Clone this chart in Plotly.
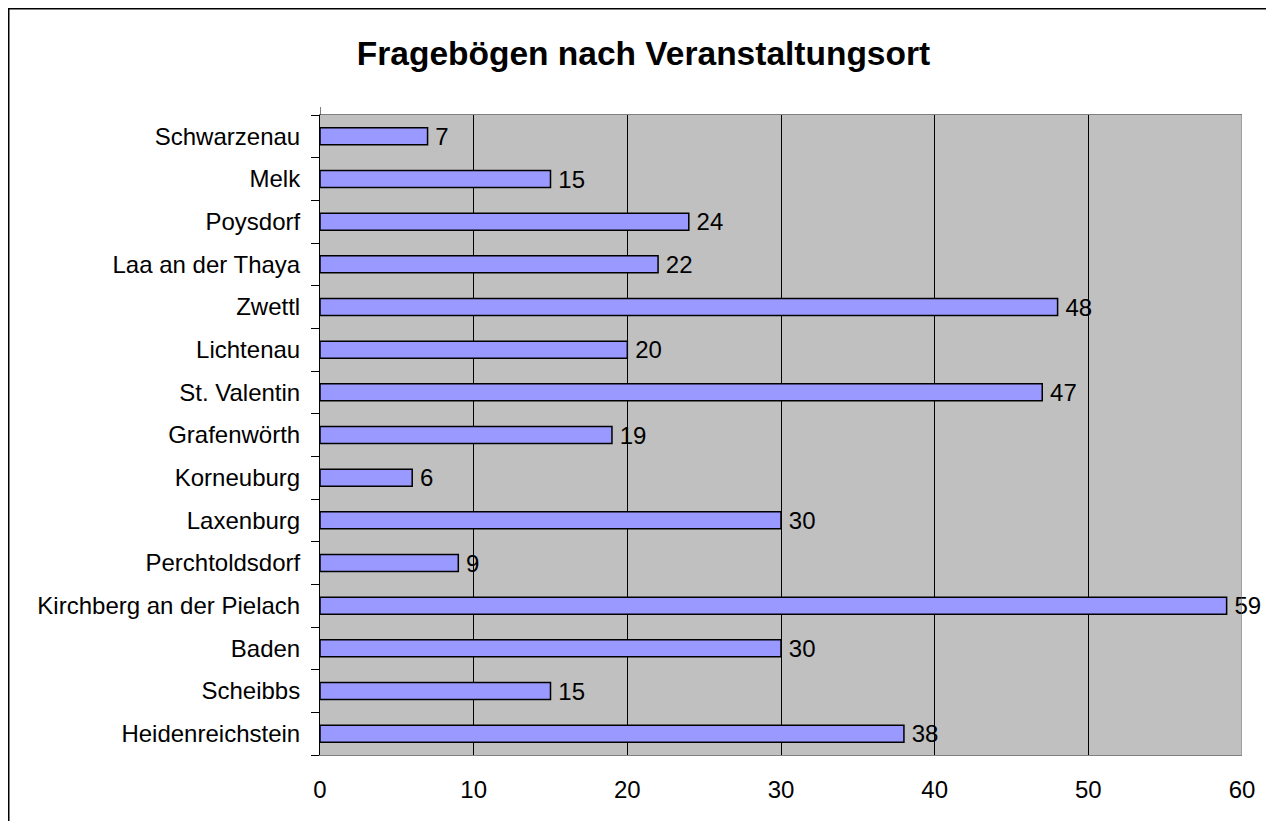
import plotly.graph_objects as go

# Data (bottom to top as drawn)
orte = ["Heidenreichstein", "Scheibbs", "Baden", "Kirchberg an der Pielach",
        "Perchtoldsdorf", "Laxenburg", "Korneuburg", "Grafenwörth",
        "St. Valentin", "Lichtenau", "Zwettl", "Laa an der Thaya",
        "Poysdorf", "Melk", "Schwarzenau"]
anzahl = [38, 15, 30, 59, 9, 30, 6, 19, 47, 20, 48, 22, 24, 15, 7]
title_text = "Fragebögen nach Veranstaltungsort"
x_ticks = [0, 10, 20, 30, 40, 50, 60]

# page has an 8px body margin, so the figure is offset by 8px
W, H = 1266, 813
L, R, T, B = 312, 32, 107, 66
pw, ph = W - L - R, H - T - B

font = "Liberation Sans, Arial, sans-serif"

fig = go.Figure(go.Bar(
    y=orte, x=anzahl, orientation="h",
    marker=dict(color="#9999FF", line=dict(color="black", width=1.5)),
    text=["\u2009" + str(v) for v in anzahl], textposition="outside",
    constraintext="none",
    textfont=dict(size=24, color="black", family=font),
    cliponaxis=False,
))

fig.update_layout(
    width=W, height=H,
    margin=dict(l=L, r=R, t=T, b=B, autoexpand=False),
    paper_bgcolor="white", plot_bgcolor="#C0C0C0",
    bargap=0.6,
    showlegend=False,
    font=dict(family=font, size=24, color="black"),
    title=dict(text="<b>" + title_text + "</b>", x=(635.5) / W, xanchor="center",
               y=1 - 45 / H, yanchor="middle", yref="container",
               font=dict(size=33.5, family=font, color="black")),
)

fig.update_xaxes(range=[0, 60], tickvals=x_ticks, showgrid=True, gridcolor="black",
                 gridwidth=1, showline=True, linecolor="#808080", linewidth=1,
                 mirror=True, ticks="", ticklabelstandoff=13, zeroline=False,
                 tickfont=dict(size=24, family=font, color="black"))
fig.update_yaxes(type="category", showline=True, linecolor="black", linewidth=1,
                 ticks="outside", ticklen=8, tickcolor="black", tickson="boundaries",
                 ticklabelstandoff=14, showgrid=False,
                 tickfont=dict(size=24, family=font, color="black"))

shapes = [
    # right edge of plot area in gray (covering the gridline at 60)
    dict(type="line", xref="x", yref="y domain", x0=60, x1=60, y0=0, y1=1,
         line=dict(color="#808080", width=1), layer="above"),
    # left axis extends slightly above plot area
    dict(type="line", xref="x", yref="y domain", x0=0, x1=0, y0=1, y1=1 + 8 / ph,
         line=dict(color="black", width=1), layer="above"),
    # outer chart border
    dict(type="rect", xref="paper", yref="paper",
         x0=(0 - L) / pw, x1=(1261 - L) / pw,
         y0=(H - B - 840) / ph, y1=(H - B - 0) / ph,
         line=dict(color="black", width=3), fillcolor="rgba(0,0,0,0)", layer="above"),
]
fig.update_layout(shapes=shapes)

fig.write_html("out.html")
